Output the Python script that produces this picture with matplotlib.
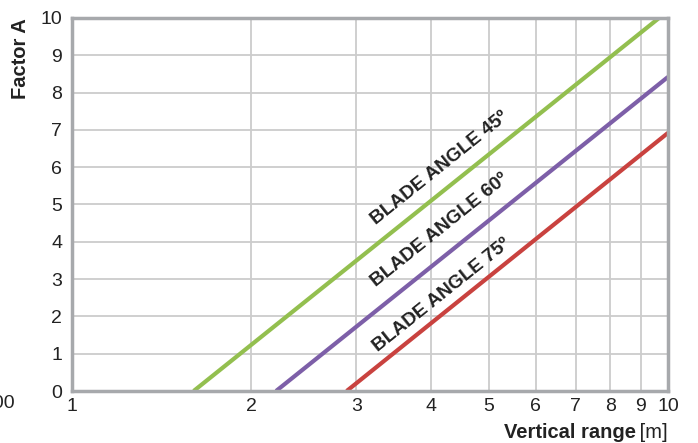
import numpy as np
import matplotlib.pyplot as plt
import matplotlib.ticker as mticker

plt.rcParams['font.family'] = ['Liberation Sans', 'DejaVu Sans']

# each line: start on the x axis, end at the right/top of the plot
green_x = [1.60, 9.66]
green_y = [0.0, 10.0]
purple_x = [2.20, 10.0]
purple_y = [0.0, 8.42]
red_x = [2.89, 10.0]
red_y = [0.0, 6.92]

labels = ["BLADE ANGLE 45º", "BLADE ANGLE 60º", "BLADE ANGLE 75º"]
label_x = [3.24, 3.24, 3.26]
label_y = [4.45, 2.78, 1.05]

xticks = [1, 2, 3, 4, 5, 6, 7, 8, 9, 10]
yticks = list(range(0, 11))

frame = '#a7a9ac'
gridc = '#cccccc'

fig = plt.figure(figsize=(6.98, 4.43), dpi=100)
ax = fig.add_axes([72/698, 52/443, 596/698, 373/443])

ax.set_xscale('log')
ax.set_xlim(1, 10)
ax.set_ylim(0, 10)

ax.set_xticks(xticks)
ax.xaxis.set_major_formatter(mticker.FixedFormatter([str(t) for t in xticks]))
ax.xaxis.set_minor_locator(mticker.NullLocator())
ax.set_yticks(yticks)
ax.tick_params(length=0, labelsize=14, colors='#222222')
ax.tick_params(axis='y', pad=7)
ax.tick_params(axis='x', pad=5)
ax.grid(True, color=gridc, linewidth=1.3)
ax.set_axisbelow(True)
for s in ax.spines.values():
    s.set_color(frame)
    s.set_linewidth(2.5)

ax.plot(green_x, green_y, color='#93bf4f', linewidth=3.0, solid_capstyle='butt')
ax.plot(purple_x, purple_y, color='#7d5fa8', linewidth=3.0, solid_capstyle='butt')
ax.plot(red_x, red_y, color='#c9423f', linewidth=3.0, solid_capstyle='butt')

# rotation angle from the slope of the lines in screen space
p0 = ax.transData.transform((purple_x[0], purple_y[0]))
p1 = ax.transData.transform((purple_x[1], purple_y[1]))
ang = np.degrees(np.arctan2(p1[1] - p0[1], p1[0] - p0[0]))

for t, x, y in zip(labels, label_x, label_y):
    ax.text(x, y, t, rotation=ang, rotation_mode='anchor', ha='left', va='baseline',
            fontsize=13.8, fontweight='bold', color='#222222')

fig.text(21/698, 1 - 18/443, "Factor A", rotation=90, ha='center', va='top',
         fontsize=14.5, fontweight='bold', color='#222222')
fig.text(668/698, 1 - 432/443, " [m]", ha='right', va='center', fontsize=14.5, color='#222222')
fig.text(636/698, 1 - 432/443, "Vertical range", ha='right', va='center',
         fontsize=14.5, fontweight='bold', color='#222222')
fig.text(15/698, 1 - 404/443, "100", ha='right', va='center', fontsize=14, color='#222222')

fig.savefig('out.png', dpi=100)
